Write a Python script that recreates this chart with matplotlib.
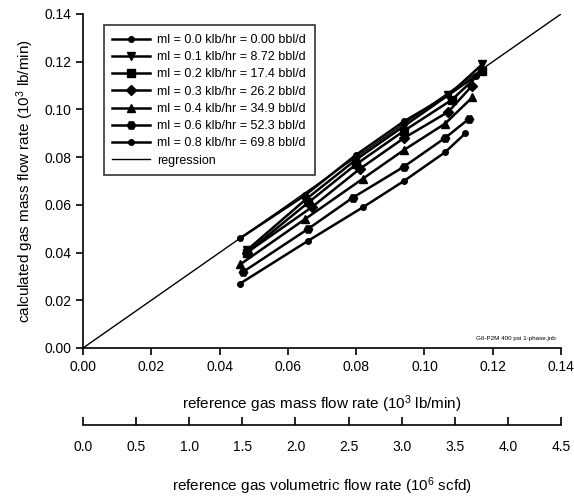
import numpy as np
import matplotlib.pyplot as plt

plt.rcParams['font.family'] = ['Liberation Sans', 'DejaVu Sans']
plt.rcParams['mathtext.default'] = 'regular'

# reference gas mass flow (x) vs calculated gas mass flow (y), 10^3 lb/min
labels = ['ml = 0.0 klb/hr = 0.00 bbl/d', 'ml = 0.1 klb/hr = 8.72 bbl/d',
          'ml = 0.2 klb/hr = 17.4 bbl/d', 'ml = 0.3 klb/hr = 26.2 bbl/d',
          'ml = 0.4 klb/hr = 34.9 bbl/d', 'ml = 0.6 klb/hr = 52.3 bbl/d',
          'ml = 0.8 klb/hr = 69.8 bbl/d']
markers = ['o', 'v', 's', 'D', '^', 'H', 'o']
msizes = [4, 6, 6, 5, 6, 6, 4]

x00 = [0.046, 0.065, 0.080, 0.094, 0.107, 0.115]
y00 = [0.046, 0.064, 0.081, 0.095, 0.106, 0.114]
x01 = [0.048, 0.065, 0.080, 0.094, 0.107, 0.117]
y01 = [0.041, 0.062, 0.079, 0.093, 0.106, 0.119]
x02 = [0.048, 0.066, 0.080, 0.094, 0.108, 0.117]
y02 = [0.040, 0.061, 0.077, 0.091, 0.104, 0.116]
x03 = [0.048, 0.067, 0.081, 0.094, 0.107, 0.114]
y03 = [0.040, 0.059, 0.075, 0.088, 0.099, 0.110]
x04 = [0.046, 0.065, 0.082, 0.094, 0.106, 0.114]
y04 = [0.035, 0.054, 0.071, 0.083, 0.094, 0.105]
x06 = [0.047, 0.066, 0.079, 0.094, 0.106, 0.113]
y06 = [0.032, 0.050, 0.063, 0.076, 0.088, 0.096]
x08 = [0.046, 0.066, 0.082, 0.094, 0.106, 0.112]
y08 = [0.027, 0.045, 0.059, 0.070, 0.082, 0.090]

xs = [x00, x01, x02, x03, x04, x06, x08]
ys = [y00, y01, y02, y03, y04, y06, y08]

reg = [0.0, 0.14]
sec_ticks = [0.0, 0.5, 1.0, 1.5, 2.0, 2.5, 3.0, 3.5, 4.0, 4.5]

fig = plt.figure(figsize=(5.74, 5.01), dpi=100)
ax = fig.add_axes([0.1446, 0.3054, 0.8328, 0.6667])

for i in range(len(xs)):
    ax.plot(xs[i], ys[i], color='black', linewidth=1.8, marker=markers[i],
            markersize=msizes[i], label=labels[i])
ax.plot(reg, reg, color='black', linewidth=1, label='regression')

ax.set_xlim(0, 0.14)
ax.set_ylim(0, 0.14)
ax.set_xticks(np.arange(0, 0.141, 0.02))
ax.set_yticks(np.arange(0, 0.141, 0.02))
ax.xaxis.set_major_formatter(plt.FormatStrFormatter('%.2f'))
ax.yaxis.set_major_formatter(plt.FormatStrFormatter('%.2f'))
ax.tick_params(direction='out', length=5, width=1.2, labelsize=10)
ax.spines['top'].set_visible(False)
ax.spines['right'].set_visible(False)
for s in ['left', 'bottom']:
    ax.spines[s].set_linewidth(1.2)
ax.set_xlabel('reference gas mass flow rate (10$^3$ lb/min)', fontsize=11, labelpad=14)
ax.set_ylabel('calculated gas mass flow rate (10$^3$ lb/min)', fontsize=11, labelpad=6)
ax.text(0.1385, 0.003, 'G6-P2M 400 psi 1-phase.jnb', fontsize=4.5, ha='right', va='bottom')

leg = ax.legend(loc='upper left', bbox_to_anchor=(0.03, 0.985), fontsize=9,
                frameon=True, fancybox=False, edgecolor='black', handlelength=3,
                borderpad=0.7, labelspacing=0.42, handletextpad=0.6)
leg.get_frame().set_linewidth(1.2)

ax2 = fig.add_axes([0.1446, 0.1517, 0.8328, 1e-6])
ax2.set_xlim(0, 4.5)
ax2.set_xticks(sec_ticks)
ax2.xaxis.set_major_formatter(plt.FormatStrFormatter('%.1f'))
ax2.set_yticks([])
for s in ['left', 'right', 'top']:
    ax2.spines[s].set_visible(False)
ax2.spines['bottom'].set_linewidth(1.2)
ax2.tick_params(direction='in', length=6, width=1.2, labelsize=10, pad=11)
ax2.set_xlabel('reference gas volumetric flow rate (10$^6$ scfd)', fontsize=11, labelpad=15)

fig.savefig('out.png', dpi=100)
